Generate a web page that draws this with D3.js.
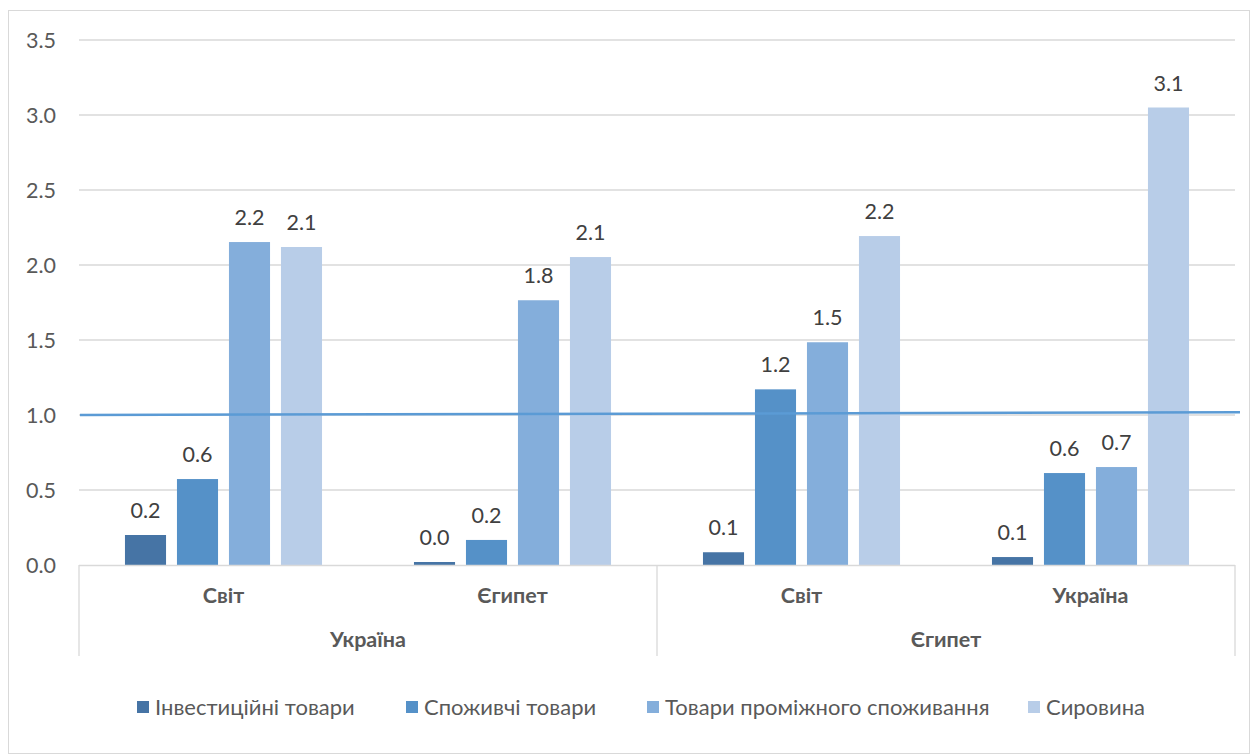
<!DOCTYPE html>
<html><head><meta charset="utf-8">
<script src="https://cdn.jsdelivr.net/npm/d3@7"></script>
<style>body{margin:0;background:#fff;} text{font-family:Lato, "Open Sans", sans-serif;}</style>
</head><body><svg id="c" width="1252" height="755"></svg>
<script>
const groups = ["Україна", "Єгипет"];
const partners = ["Світ", "Єгипет", "Світ", "Україна"];
const series = ["Інвестиційні товари", "Споживчі товари", "Товари проміжного споживання", "Сировина"];
const invest = [0.2, 0.02, 0.085, 0.053];
const consumer = [0.573, 0.167, 1.171, 0.613];
const intermediate = [2.153, 1.765, 1.485, 0.653];
const raw = [2.12, 2.053, 2.193, 3.05];
const labels = [["0.2","0.0","0.1","0.1"],["0.6","0.2","1.2","0.6"],["2.2","1.8","1.5","0.7"],["2.1","2.1","2.2","3.1"]];
const refLine = [1.0, 1.018];
const yTicks = [0, 0.5, 1.0, 1.5, 2.0, 2.5, 3.0, 3.5];
const colors = ["#4674a5", "#5591c8", "#84aedb", "#b8cde8"];

const values = [invest, consumer, intermediate, raw];
const svg = d3.select("#c");
const L = 79, R = 1235, T = 40, B = 565;
const FS = 21.5;
svg.append("rect").attr("x",8.5).attr("y",10.5).attr("width",1241).attr("height",743).attr("fill","none").attr("stroke","#d9d9d9");

const y = d3.scaleLinear().domain([0,3.5]).range([B,T]);
const cats = partners.map((p,i)=>i);
const x0 = d3.scaleBand().domain(cats).range([L,R]).padding(0);
const x1 = d3.scaleBand().domain(d3.range(4)).range([0,x0.bandwidth()]).paddingInner(0.21).paddingOuter(0.884);

// grid
svg.append("g").selectAll("line").data(yTicks.slice(1)).join("line")
  .attr("x1",L).attr("x2",R).attr("y1",d=>y(d)).attr("y2",d=>y(d))
  .attr("stroke","#d9d9d9").attr("stroke-width",1.3);
svg.append("g").selectAll("text").data(yTicks).join("text")
  .attr("x",56).attr("y",d=>y(d)).attr("dy","0.35em").attr("text-anchor","end")
  .attr("font-size",FS).attr("fill","#595959").text(d=>d.toFixed(1));

// bars
series.forEach((s,si)=>{
  const g = svg.append("g");
  g.selectAll("rect").data(values[si]).join("rect")
    .attr("x",(d,i)=>x0(i)+x1(si)).attr("width",x1.bandwidth())
    .attr("y",d=>y(d)).attr("height",d=>B-y(d)).attr("fill",colors[si]);
  g.selectAll("text").data(values[si]).join("text")
    .attr("x",(d,i)=>x0(i)+x1(si)+x1.bandwidth()/2).attr("y",d=>y(d)-17)
    .attr("text-anchor","middle").attr("font-size",FS).attr("fill","#404040")
    .text((d,i)=>labels[si][i]);
});

// axis lines
svg.append("line").attr("x1",L).attr("x2",R).attr("y1",B+0.5).attr("y2",B+0.5).attr("stroke","#d9d9d9").attr("stroke-width",1.3);
[L, (L+R)/2, R].forEach(xx=>{
  svg.append("line").attr("x1",xx).attr("x2",xx).attr("y1",B).attr("y2",656).attr("stroke","#d9d9d9").attr("stroke-width",1.3);
});
svg.append("g").selectAll("text").data(partners).join("text")
  .attr("x",(d,i)=>x0(i)+x0.bandwidth()/2).attr("y",603).attr("text-anchor","middle")
  .attr("font-size",FS).attr("font-weight","bold").attr("fill","#595959").text(d=>d);
const xg = d3.scaleBand().domain(groups).range([L,R]);
svg.append("g").selectAll("text").data(groups).join("text")
  .attr("x",d=>xg(d)+xg.bandwidth()/2).attr("y",647).attr("text-anchor","middle")
  .attr("font-size",FS).attr("font-weight","bold").attr("fill","#595959").text(d=>d);

// reference line
const xl = d3.scaleLinear().domain([0,1]).range([L+1,1240]);
svg.append("path").datum(refLine)
  .attr("d",d3.line().x((d,i)=>xl(i)).y(d=>y(d)))
  .attr("stroke","#5b9bd5").attr("stroke-width",2.5).attr("fill","none");

// legend
const legX = [137, 406, 647, 1028];
const lg = svg.append("g").selectAll("g").data(series).join("g")
  .attr("transform",(d,i)=>`translate(${legX[i]},707)`);
lg.append("rect").attr("x",0).attr("y",-6).attr("width",12).attr("height",12).attr("fill",(d,i)=>colors[i]);
lg.append("text").attr("x",18).attr("y",0).attr("dy","0.35em").attr("font-size",22).attr("fill","#595959").text(d=>d);
</script></body></html>
